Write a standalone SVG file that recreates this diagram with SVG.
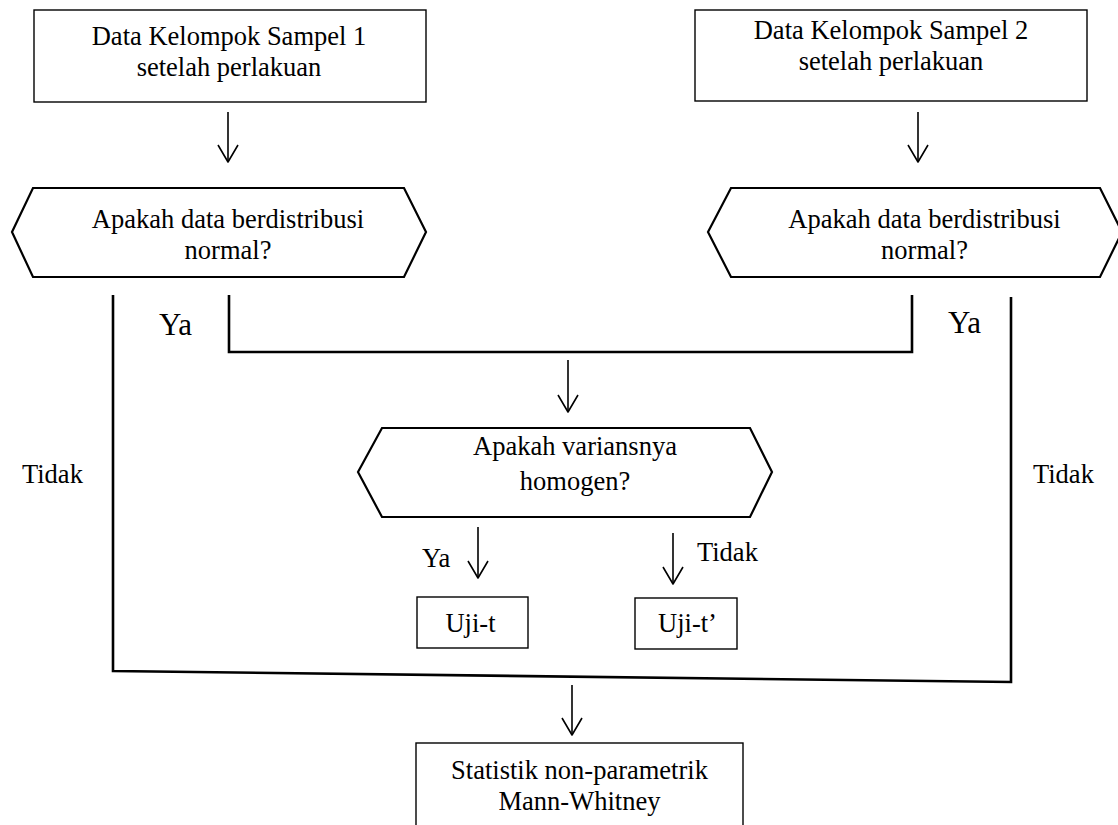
<svg xmlns="http://www.w3.org/2000/svg" width="1118" height="825" viewBox="0 0 1118 825">
<style>
text{font-family:"Liberation Serif","Times New Roman",serif;fill:#000;font-size:26.5px;text-anchor:middle}
.lbl{text-anchor:start}
.big{font-size:31px;text-anchor:start}
.box{fill:#fff;stroke:#000;stroke-width:1.4}
.hex{fill:#fff;stroke:#000;stroke-width:2.2;stroke-linejoin:miter}
.conn{fill:none;stroke:#000;stroke-width:2.6}
.arr{fill:none;stroke:#000;stroke-width:1.6;marker-end:url(#open)}
</style>
<defs>
<marker id="open" markerUnits="userSpaceOnUse" viewBox="-20 -12 22 24" markerWidth="22" markerHeight="24" refX="0" refY="0" orient="auto">
<path d="M-17,-10 L0,0 L-17,10" fill="none" stroke="#000" stroke-width="1.6" stroke-linejoin="round"/>
</marker>
</defs>
<rect width="1118" height="825" fill="#fff"/>
<g id="connectors">
<line class="arr" x1="228" y1="112" x2="228" y2="162"/>
<line class="arr" x1="918" y1="112" x2="918" y2="162"/>
<polyline class="conn" points="229,295 229,352 912,352 912,295"/>
<line class="arr" x1="568" y1="360" x2="568" y2="412"/>
<polyline class="conn" points="113,295 113,671 1011,682 1011,297"/>
<line class="arr" x1="478" y1="527" x2="478" y2="578"/>
<line class="arr" x1="673" y1="533" x2="673" y2="584"/>
<line class="arr" x1="572" y1="685" x2="572" y2="735"/>
<text class="big" x="159" y="335">Ya</text>
<text class="big" x="948" y="333">Ya</text>
<text class="lbl" x="22" y="483">Tidak</text>
<text class="lbl" x="1033" y="483">Tidak</text>
<text class="lbl" x="422" y="567">Ya</text>
<text class="lbl" x="697" y="561">Tidak</text>
</g>
<g id="box1">
<rect class="box" x="34" y="10" width="392" height="92"/>
<text x="229" y="45">Data Kelompok Sampel 1</text>
<text x="229" y="76">setelah perlakuan</text>
</g>
<g id="box2">
<rect class="box" x="695" y="10" width="392" height="91"/>
<text x="891" y="39">Data Kelompok Sampel 2</text>
<text x="891" y="70">setelah perlakuan</text>
</g>
<g id="hex1">
<polygon class="hex" points="12,232 33,188 404,188 426,232 404,277 33,277"/>
<text x="228" y="228">Apakah data berdistribusi</text>
<text x="228" y="259">normal?</text>
</g>
<g id="hex2">
<polygon class="hex" points="708,232 731,188 1100,188 1122,232 1100,277 731,277"/>
<text x="924.5" y="228">Apakah data berdistribusi</text>
<text x="924.5" y="259">normal?</text>
</g>
<g id="hex3">
<polygon class="hex" points="358,472 382,428 750,428 772,472 750,517 382,517"/>
<text x="575" y="455">Apakah variansnya</text>
<text x="575" y="490">homogen?</text>
</g>
<g id="ujit">
<rect class="box" x="417" y="597" width="111" height="51"/>
<text x="470.5" y="632">Uji-t</text>
</g>
<g id="ujit2">
<rect class="box" x="635" y="598" width="102" height="51"/>
<text x="687.5" y="632">Uji-t’</text>
</g>
<g id="mannwhitney">
<rect class="box" x="416" y="743" width="327" height="100"/>
<text x="579.5" y="779">Statistik non-parametrik</text>
<text x="579.5" y="810">Mann-Whitney</text>
</g>
</svg>
